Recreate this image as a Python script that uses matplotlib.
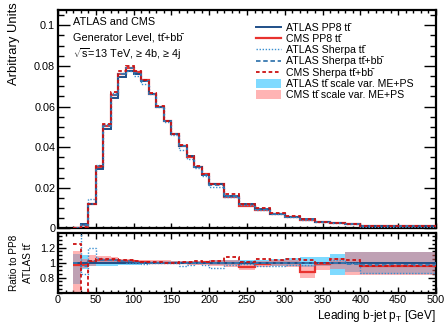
import matplotlib
matplotlib.use('Agg')
import matplotlib.pyplot as plt
import numpy as np
from matplotlib.lines import Line2D
from matplotlib.patches import Patch
from matplotlib.ticker import MultipleLocator, FixedLocator, FuncFormatter

plt.rcParams['font.family'] = ['Liberation Sans', 'DejaVu Sans']
plt.rcParams['mathtext.fontset'] = 'custom'
plt.rcParams['mathtext.rm'] = 'Liberation Sans'
plt.rcParams['mathtext.it'] = 'Liberation Sans:italic'
plt.rcParams['mathtext.bf'] = 'Liberation Sans:bold'

TT = 'tt\u0304'
BB = 'bb\u0304'

# ---------------- data ----------------
bin_edges = [20, 30, 40, 50, 60, 70, 80, 90, 100, 110, 120, 130, 140, 150, 160, 170, 180, 190, 200,
             220, 240, 260, 280, 300, 320, 340, 360, 380, 400, 500]

atlas_pp8 = [0.0002, 0.002, 0.012, 0.0295, 0.049, 0.064, 0.0745, 0.0775, 0.076, 0.0725, 0.066, 0.0597,
             0.053, 0.0463, 0.0405, 0.0355, 0.0302, 0.0265, 0.0217, 0.0158, 0.012, 0.0095, 0.0073,
             0.0057, 0.0045, 0.0034, 0.0026, 0.0021, 0.0011]

ratio_cms_pp8 = [0.97, 0.97, 1.01, 1.03, 1.03, 1.03, 1.02, 1.02, 1.01, 1.01, 1.0, 1.0, 1.0, 1.0, 1.0,
                 0.99, 1.0, 1.01, 1.0, 0.99, 0.94, 0.98, 0.99, 0.99, 0.88, 0.98, 1.0, 0.99, 0.96]
ratio_atlas_sherpa_tt = [1.6, 0.85, 1.19, 1.06, 1.05, 1.04, 1.03, 1.0, 0.99, 0.98, 1.0, 1.0, 0.99, 0.99,
                         0.95, 0.97, 0.99, 0.97, 0.93, 0.97, 0.98, 0.96, 0.96, 0.97, 0.97, 0.99, 1.03,
                         0.99, 0.86]
ratio_atlas_sherpa_ttbb = [1.0, 0.95, 1.02, 1.04, 1.03, 1.03, 1.02, 1.02, 1.01, 1.0, 1.0, 1.0, 1.0, 1.0,
                           1.0, 1.0, 1.0, 0.99, 0.99, 1.0, 1.01, 1.0, 1.0, 1.0, 1.0, 0.99, 1.0, 0.98, 0.97]
ratio_cms_sherpa_ttbb = [1.25, 0.4, 1.02, 1.05, 1.05, 1.05, 1.04, 1.03, 1.02, 1.01, 1.01, 1.01, 1.0, 1.0,
                         1.01, 1.01, 1.02, 1.01, 1.02, 1.07, 1.01, 1.05, 1.04, 1.05, 1.03, 1.0, 1.05,
                         1.04, 0.95]

atlas_band_lo = [0.72, 0.91, 0.95, 0.96, 0.96, 0.96, 0.97, 0.97, 0.97, 0.98, 0.98, 0.98, 0.98, 0.98, 0.98,
                 0.98, 0.98, 0.98, 0.97, 0.97, 0.97, 0.97, 0.96, 0.96, 0.94, 0.95, 0.84, 0.87, 0.85]
atlas_band_hi = [1.12, 1.10, 1.03, 1.02, 1.02, 1.02, 1.02, 1.02, 1.02, 1.02, 1.02, 1.02, 1.02, 1.02, 1.02,
                 1.02, 1.02, 1.02, 1.03, 1.04, 1.04, 1.04, 1.05, 1.06, 1.07, 1.07, 1.12, 1.14, 1.14]
cms_band_lo = [0.6, 0.93, 0.95, 1.01, 1.01, 1.0, 0.99, 0.99, 0.99, 0.98, 0.98, 0.98, 0.98, 0.98, 0.98,
               0.97, 0.97, 0.97, 0.95, 0.94, 0.90, 0.94, 0.95, 0.94, 0.80, 0.90, 0.92, 0.84, 0.84]
cms_band_hi = [1.15, 1.05, 1.10, 1.09, 1.09, 1.08, 1.05, 1.05, 1.04, 1.04, 1.03, 1.03, 1.03, 1.02, 1.02,
               1.02, 1.02, 1.02, 1.03, 1.03, 0.98, 1.02, 1.03, 1.04, 0.97, 1.0, 1.06, 1.14, 1.14]

x_ticks = [0, 50, 100, 150, 200, 250, 300, 350, 400, 450, 500]
y_ticks = [0, 0.02, 0.04, 0.06, 0.08, 0.1]
ratio_ticks = [0.8, 1, 1.2]

labels = ['ATLAS PP8 ' + TT, 'CMS PP8 ' + TT, 'ATLAS Sherpa ' + TT, 'ATLAS Sherpa ' + TT + '+' + BB,
          'CMS Sherpa ' + TT + '+' + BB, 'ATLAS ' + TT + ' scale var. ME+PS', 'CMS ' + TT + ' scale var. ME+PS']

# ---------------- styles ----------------
c_atlas = '#1f4f88'
c_cms = '#e8322e'
c_sh_tt = '#3a8fd0'
c_sh_ttbb = '#3878b0'
c_cms_sh = '#cc1111'
c_band_atlas = '#7fdaff'
c_band_cms = '#ff6a6a'

edges = np.array(bin_edges, dtype=float)
pp8 = np.array(atlas_pp8)
r_cms = np.array(ratio_cms_pp8)
r_sh_tt = np.array(ratio_atlas_sherpa_tt)
r_sh_bb = np.array(ratio_atlas_sherpa_ttbb)
r_cms_sh = np.array(ratio_cms_sherpa_ttbb)
a_lo, a_hi = np.array(atlas_band_lo), np.array(atlas_band_hi)
c_lo, c_hi = np.array(cms_band_lo), np.array(cms_band_hi)

fig = plt.figure(figsize=(4.47, 3.23), dpi=100)
ax = fig.add_axes([0.1298, 0.2926, 0.8456, 0.6764])
rax = fig.add_axes([0.1298, 0.0938, 0.8456, 0.1839])

def draw(a, scale, bands):
    if bands:
        a.stairs(a_hi * scale, edges, baseline=a_lo * scale, fill=True, color=c_band_atlas, lw=0, zorder=1)
        a.stairs(c_hi * scale, edges, baseline=c_lo * scale, fill=True, color=c_band_cms, alpha=0.5, lw=0, zorder=2)
    a.stairs(np.ones_like(pp8) * scale, edges, baseline=None, color=c_atlas, lw=1.4, zorder=5)
    a.stairs(r_cms * scale, edges, baseline=None, color=c_cms, lw=1.6, zorder=4)
    a.stairs(r_sh_tt * scale, edges, baseline=None, color=c_sh_tt, lw=1.0, ls=(0, (1, 1.2)), zorder=6)
    a.stairs(r_sh_bb * scale, edges, baseline=None, color=c_sh_ttbb, lw=1.3, ls=(0, (2.5, 1.5)), zorder=6)
    a.stairs(r_cms_sh * scale, edges, baseline=None, color=c_cms_sh, lw=1.3, ls=(0, (2, 1.5)), zorder=7)

draw(ax, pp8, False)
draw(rax, 1.0, True)

for a in (ax, rax):
    a.set_xlim(0, 500)
    a.xaxis.set_major_locator(FixedLocator(x_ticks))
    a.xaxis.set_minor_locator(MultipleLocator(10))
    a.tick_params(axis='both', which='both', direction='in', top=True, right=True, labelsize=7.8,
                  width=1.0, colors='black')
    for s in a.spines.values():
        s.set_linewidth(1.6)

ax.set_ylim(0, 0.1075)
ax.yaxis.set_major_locator(FixedLocator(y_ticks))
ax.yaxis.set_minor_locator(MultipleLocator(0.005))
ax.yaxis.set_major_formatter(FuncFormatter(lambda v, p: '%g' % v))
ax.tick_params(axis='x', which='major', length=3.8, labelbottom=False)
ax.tick_params(axis='x', which='minor', length=1.8)
ax.tick_params(axis='y', which='major', length=8.5, pad=2)
ax.tick_params(axis='y', which='minor', length=4.5)

rax.set_ylim(0.6, 1.39)
rax.yaxis.set_major_locator(FixedLocator(ratio_ticks))
rax.yaxis.set_minor_locator(MultipleLocator(0.05))
rax.yaxis.set_major_formatter(FuncFormatter(lambda v, p: '%g' % v))
rax.tick_params(axis='x', which='major', length=4.5, pad=2)
rax.tick_params(axis='x', which='minor', length=2.2)
rax.tick_params(axis='y', which='major', length=6, pad=2)
rax.tick_params(axis='y', which='minor', length=3)

fig.text(14 / 447, 1 - 2 / 323, 'Arbitrary Units', rotation=90, ha='center', va='top', fontsize=9.4)
fig.text(436 / 447, 1 - 316 / 323, r'Leading b-jet p$_{\mathrm{T}}$ [GeV]', ha='right', va='center', fontsize=8.6)
fig.text(14 / 447, 1 - 263 / 323, 'Ratio to PP8', rotation=90, ha='center', va='center', fontsize=7.2)
fig.text(28 / 447, 1 - 263 / 323, 'ATLAS ' + TT, rotation=90, ha='center', va='center', fontsize=7.2)

ax.text(0.04, 0.943, 'ATLAS and CMS', transform=ax.transAxes, fontsize=7.8, va='center')
ax.text(0.04, 0.876, 'Generator Level, ' + TT + '+' + BB, transform=ax.transAxes, fontsize=7.8, va='center')
ax.text(0.04, 0.799, r'$\sqrt{\mathrm{s}}$=13 TeV, ≥ 4b, ≥ 4j', transform=ax.transAxes, fontsize=7.8, va='center')

handles = [Line2D([], [], color=c_atlas, lw=1.4),
           Line2D([], [], color=c_cms, lw=1.6),
           Line2D([], [], color=c_sh_tt, lw=1.0, ls=(0, (1, 1.2))),
           Line2D([], [], color=c_sh_ttbb, lw=1.3, ls=(0, (2.5, 1.5))),
           Line2D([], [], color=c_cms_sh, lw=1.3, ls=(0, (2, 1.5))),
           Patch(facecolor=c_band_atlas, lw=0),
           Patch(facecolor=c_band_cms, alpha=0.5, lw=0)]
ax.legend(handles, labels, loc='upper left', bbox_to_anchor=(0.524, 0.942), frameon=False, fontsize=7.6,
          borderaxespad=0, borderpad=0, handlelength=2.4, handleheight=0.85, handletextpad=0.45,
          labelspacing=0.12)

fig.savefig('out.png', dpi=100)
